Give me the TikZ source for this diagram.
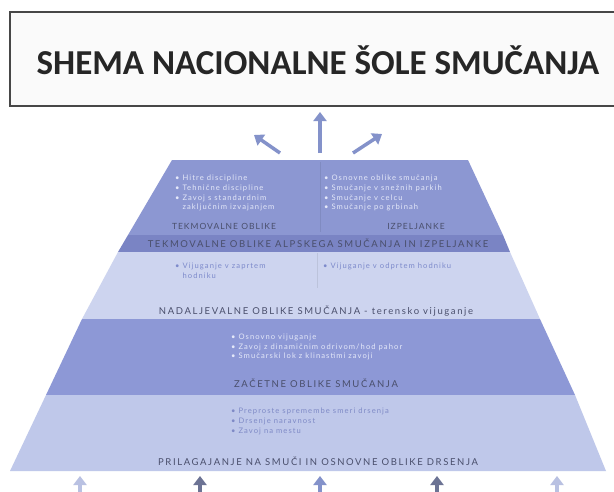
\documentclass[tikz,border=0pt]{standalone}
\usepackage{fontspec}
\setmainfont{Carlito}
\newfontfamily\itemfont[LetterSpace=14]{Lato}
\newfontfamily\labfont[LetterSpace=17]{Lato}
\newfontfamily\sublabfont[LetterSpace=12]{Lato}
\usetikzlibrary{arrows.meta}
\definecolor{bandA}{HTML}{8C97D2}
\definecolor{stripA}{HTML}{7A84C4}
\definecolor{bandB}{HTML}{CDD4EF}
\definecolor{bandC}{HTML}{8D98D6}
\definecolor{bandD}{HTML}{BFC8EA}
\definecolor{darktxt}{HTML}{4A4F6C}
\definecolor{lighttxt}{HTML}{E4E8F9}
\definecolor{bluetxt}{HTML}{7D8ACB}
\definecolor{paletxt}{HTML}{7F8AC6}
\definecolor{arrowmid}{HTML}{8492CA}
\definecolor{arrowdark}{HTML}{6C7394}
\definecolor{arrowlight}{HTML}{B9C1E2}
\tikzset{
  itemtxt/.style={font=\itemfont\fontsize{7.6}{9.6}\selectfont, align=left, anchor=north west, inner sep=0pt},
  labtxt/.style={font=\labfont\fontsize{9.5}{10}\selectfont, text=darktxt, inner sep=0pt},
  sublab/.style={font=\sublabfont\fontsize{8.5}{9}\selectfont, text=darktxt, inner sep=0pt},
  uparrow/.style={line width=3.5pt, -{Triangle[width=13pt,length=9pt]}},
}
\begin{document}
\begin{tikzpicture}[x=1pt,y=-1pt]
\useasboundingbox[fill=white] (0,0) rectangle (614,491);
% title box
\draw[line width=2pt, draw=black!72, fill=black!2] (10,12) rectangle (617,106);
\node[font=\bfseries\fontsize{35}{40}\selectfont, text=black!85] (title) at (318,60) {SHEMA NACIONALNE ŠOLE SMUČANJA};
% pyramid bands
\fill[bandA] (172,160) -- (468,160) -- (503,235) -- (128,235) -- cycle;
\fill[stripA] (128,235) -- (503,235) -- (510,252) -- (118,252) -- cycle;
\fill[bandB] (118,252) -- (510,252) -- (540,319) -- (82,319) -- cycle;
\fill[bandC] (82,319) -- (540,319) -- (575,395) -- (46,395) -- cycle;
\fill[bandD] (46,395) -- (575,395) -- (606,471) -- (10,471) -- cycle;
\draw[bandA!80!black, line width=0.4pt, opacity=0.4] (320,162) -- (320,232);
\draw[bandB!80!black, line width=0.4pt, opacity=0.4] (317,253) -- (317,288);
% top band texts
\begin{scope}
\clip (172,160) -- (468,160) -- (503,235) -- (128,235) -- cycle;
\node[itemtxt, text=lighttxt] (tl) at (175,175) {• Hitre discipline\\• Tehnične discipline\\• Zavoj s standardnim\\\phantom{• }zaključnim izvajanjem};
\node[itemtxt, text=lighttxt] (tr) at (324,175) {• Osnovne oblike smučanja\\• Smučanje v snežnih parkih\\• Smučanje v celcu\\• Smučanje po grbinah};
\end{scope}
\node[sublab] (l1a) at (224,226) {TEKMOVALNE OBLIKE};
\node[sublab] (l1b) at (416,226) {IZPELJANKE};
\node[labtxt] (l1) at (318,243) {TEKMOVALNE OBLIKE ALPSKEGA SMUČANJA IN IZPELJANKE};
% second band
\node[itemtxt, text=bluetxt] (ml) at (175,263) {• Vijuganje v zaprtem\\\phantom{• }hodniku};
\node[itemtxt, text=bluetxt] (mr) at (323,263) {• Vijuganje v odprtem hodniku};
\node[labtxt] (l2) at (316,311) {NADALJEVALNE OBLIKE SMUČANJA - terensko vijuganje};
% third band
\node[itemtxt, text=lighttxt] (c3) at (231,334) {• Osnovno vijuganje\\• Zavoj z dinamičnim odrivom/hod pahor\\• Smučarski lok z klinastimi zavoji};
\node[labtxt] (l3) at (316,383) {ZAČETNE OBLIKE SMUČANJA};
% fourth band
\node[itemtxt, text=paletxt] (c4) at (231,408) {• Preproste spremembe smeri drsenja\\• Drsenje naravnost\\• Zavoj na mestu};
\node[labtxt] (l4) at (318,461) {PRILAGAJANJE NA SMUČI IN OSNOVNE OBLIKE DRSENJA};
% top arrows
\coordinate (a0s) at (320,153); \coordinate (a0e) at (320,112);
\coordinate (a1s) at (280,153); \coordinate (a1e) at (254,135);
\coordinate (a2s) at (353,153); \coordinate (a2e) at (382,134);
\draw[uparrow, arrowmid] (a0s) -- (a0e);
\draw[uparrow, arrowmid] (a1s) -- (a1e);
\draw[uparrow, arrowmid] (a2s) -- (a2e);
% bottom arrows
\coordinate (b1s) at (80,493); \coordinate (b1e) at (80,476);
\coordinate (b2s) at (200,493); \coordinate (b2e) at (200,476);
\coordinate (b3s) at (320,493); \coordinate (b3e) at (320,476);
\coordinate (b4s) at (437,493); \coordinate (b4e) at (437,476);
\coordinate (b5s) at (557,493); \coordinate (b5e) at (557,476);
\draw[uparrow, arrowlight] (b1s) -- (b1e);
\draw[uparrow, arrowdark] (b2s) -- (b2e);
\draw[uparrow, arrowmid] (b3s) -- (b3e);
\draw[uparrow, arrowdark] (b4s) -- (b4e);
\draw[uparrow, arrowlight] (b5s) -- (b5e);
\end{tikzpicture}
\end{document}
